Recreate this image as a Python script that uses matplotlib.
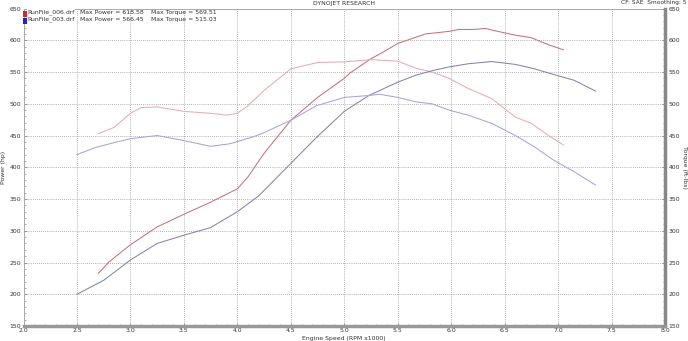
import matplotlib
matplotlib.use("Agg")
import matplotlib.pyplot as plt
from matplotlib.ticker import MultipleLocator
import matplotlib.patches as mpatches

# RunFile_006 (red)
rpm_006_power = [2.70, 2.80, 3.00, 3.25, 3.50, 3.75, 4.00, 4.10, 4.25, 4.50, 4.75, 5.00, 5.05, 5.25, 5.36, 5.50, 5.76, 5.98, 6.07, 6.20, 6.32, 6.41, 6.60, 6.75, 6.91, 7.05]
power_006 = [233, 251, 278, 306, 326, 345, 366, 385, 422, 474, 510, 540, 548, 571, 581, 595, 610, 614, 617, 617, 618.6, 615, 608, 604, 593, 585]
rpm_006_torque = [2.70, 2.85, 3.00, 3.10, 3.25, 3.50, 3.75, 3.90, 4.00, 4.10, 4.25, 4.50, 4.75, 5.00, 5.25, 5.50, 5.67, 5.82, 5.98, 6.16, 6.38, 6.60, 6.75, 6.91, 7.05]
torque_006 = [453, 463, 485, 494, 495, 488, 485, 482, 485, 497, 521, 555, 565, 566, 569.5, 567, 556, 550, 540, 524, 508, 479, 469, 450, 435]

# RunFile_003 (blue)
rpm_003_power = [2.50, 2.75, 3.00, 3.25, 3.50, 3.75, 4.00, 4.20, 4.50, 4.74, 5.00, 5.23, 5.50, 5.67, 5.82, 5.98, 6.16, 6.38, 6.60, 6.78, 6.96, 7.15, 7.35]
power_003 = [200, 222, 254, 280, 293, 305, 330, 355, 406, 447, 488, 513, 534, 545, 552, 558, 563, 566.5, 562, 555, 546, 537, 520]
rpm_003_torque = [2.50, 2.67, 2.83, 3.00, 3.25, 3.50, 3.75, 3.93, 4.15, 4.23, 4.50, 4.74, 5.00, 5.23, 5.33, 5.50, 5.67, 5.82, 5.98, 6.16, 6.38, 6.60, 6.78, 6.96, 7.15, 7.35]
torque_003 = [420, 431, 438, 445, 450, 442, 433, 437, 448, 453, 474, 497, 510, 513, 515, 510, 503, 500, 490, 482, 469, 450, 432, 411, 393, 372]

x_ticks = [2.0, 2.5, 3.0, 3.5, 4.0, 4.5, 5.0, 5.5, 6.0, 6.5, 7.0, 7.5, 8.0]
y_ticks = [150, 200, 250, 300, 350, 400, 450, 500, 550, 600, 650]

red_power = '#c8707c'
red_torque = '#e8aab2'
blue_power = '#8484a8'
blue_torque = '#a4a4e0'

fig = plt.figure(figsize=(6.88, 3.41), dpi=100)
ax = fig.add_axes([0.0342, 0.044, 0.9324, 0.931])
fs = 4.4
txt = '#333333'

ax.plot(rpm_006_power, power_006, color=red_power, lw=0.75)
ax.plot(rpm_006_torque, torque_006, color=red_torque, lw=0.75)
ax.plot(rpm_003_power, power_003, color=blue_power, lw=0.75)
ax.plot(rpm_003_torque, torque_003, color=blue_torque, lw=0.75)

ax.set_xlim(2.0, 8.0)
ax.set_ylim(150, 650)
ax.set_xticks(x_ticks)
ax.set_xticklabels([f"{v:.1f}" for v in x_ticks])
ax.set_yticks(y_ticks)
ax.xaxis.set_minor_locator(MultipleLocator(0.1))
ax.yaxis.set_minor_locator(MultipleLocator(10))
ax.grid(True, which='major', color='#999999', ls=(0, (1, 1.5)), lw=0.6)
ax.tick_params(axis='both', which='major', direction='in', labelsize=fs, colors='#888888', labelcolor=txt, length=2.5, width=0.6)
ax.tick_params(axis='both', which='minor', direction='in', colors='#888888', length=1.5, width=0.5)
ax.tick_params(axis='x', which='major', pad=1.5)
ax.tick_params(axis='y', which='major', pad=1.5)
ax.tick_params(axis='y', which='both', right=False)

for s in ['left', 'top']:
    ax.spines[s].set_color('#aaaaaa')
    ax.spines[s].set_linewidth(0.7)
ax.spines['bottom'].set_color('#999999')
ax.spines['bottom'].set_linewidth(2.5)
ax.spines['right'].set_color('#888888')
ax.spines['right'].set_linewidth(2.5)

ax2 = ax.twinx()
ax2.set_ylim(150, 650)
ax2.set_yticks(y_ticks)
ax2.tick_params(axis='y', direction='in', labelsize=fs, colors='#888888', labelcolor=txt, length=2.5, width=0.6, pad=2.5)
ax2.yaxis.set_minor_locator(MultipleLocator(10))
ax2.tick_params(axis='y', which='minor', direction='in', colors='#888888', length=1.5, width=0.5)
for s in ax2.spines.values():
    s.set_visible(False)

fig.text(0.5, 0.0, 'Engine Speed (RPM x1000)', ha='center', va='bottom', fontsize=fs, color=txt)
fig.text(0.0045, 0.51, 'Power (hp)', ha='center', va='center', rotation=90, fontsize=fs, color=txt)
fig.text(0.9955, 0.51, 'Torque (ft-lbs)', ha='center', va='center', rotation=270, fontsize=fs, color=txt)

fig.text(0.5, 0.998, 'DYNOJET RESEARCH', ha='center', va='top', fontsize=fs, color=txt)
fig.text(0.998, 0.999, 'CF: SAE  Smoothing: 5', ha='right', va='top', fontsize=fs - 0.2, color=txt)

# legend entries
leg_y = [0.963, 0.943]
labels = [('RunFile_006.drf', 'Max Power = 618.58', 'Max Torque = 569.51', '#dd2222'),
          ('RunFile_003.drf', 'Max Power = 566.45', 'Max Torque = 515.03', '#2222cc')]
for (name, p, t, c), yy in zip(labels, leg_y):
    fig.patches.append(mpatches.Rectangle((0.0335, yy - 0.012), 0.0055, 0.017, transform=fig.transFigure,
                                          facecolor=c, edgecolor='none'))
    fig.text(0.040, yy, name, ha='left', va='center', fontsize=fs, color=txt,
             bbox=dict(facecolor='white', edgecolor='none', pad=0.3))
    fig.text(0.117, yy, p, ha='left', va='center', fontsize=fs, color=txt)
    fig.text(0.219, yy, t, ha='left', va='center', fontsize=fs, color=txt)

fig.savefig('out.png', dpi=100)
